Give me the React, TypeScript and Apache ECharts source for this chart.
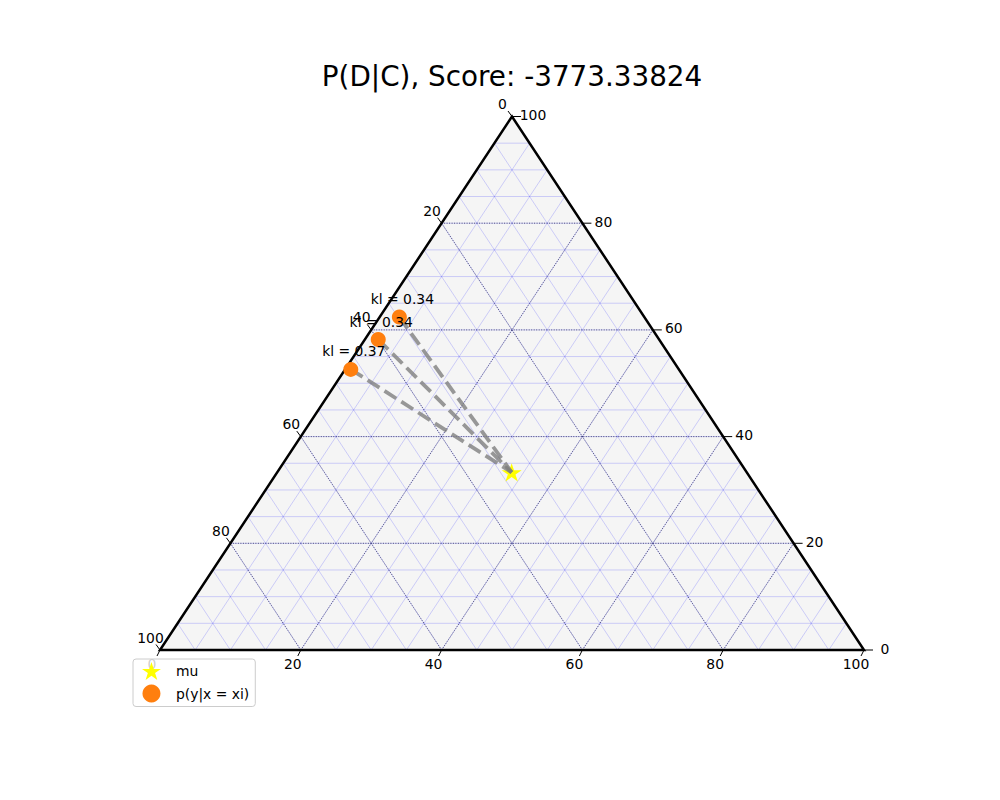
import React, { useEffect, useRef } from "react";
import * as echarts from "echarts";

// Ternary data: [bottom (a), right (b)] in percent; left c = 100 - a - b
const MU_A = [33.3];
const MU_B = [33.3];
const POINTS_A = [2.8, 1.9, 0.8];
const POINTS_B = [62.4, 58.2, 52.6];
const KL = [0.34, 0.34, 0.37];
const TICKS = [0, 20, 40, 60, 80, 100];
const MINOR = [5, 10, 15, 20, 25, 30, 35, 40, 45, 50, 55, 60, 65, 70, 75, 80, 85, 90, 95];
const MAJOR = [20, 40, 60, 80];
const TITLE = "P(D|C), Score: -3773.33824";
const FONT = "DejaVu Sans";

const project = (a: number, b: number) => [a + b / 2, b];

const STAR =
  "path://M0,-100 L22.45,-30.9 L95.1,-30.9 L36.3,11.8 L58.8,80.9 L0,38.2 L-58.8,80.9 L-36.3,11.8 L-95.1,-30.9 L-22.45,-30.9 Z";

function gridSegments(vals: number[]) {
  const segs: number[][] = [];
  vals.forEach((v) => {
    segs.push([...project(0, v), ...project(100 - v, v)]);
    segs.push([...project(v, 0), ...project(v, 100 - v)]);
    segs.push([...project(100 - v, 0), ...project(0, 100 - v)]);
  });
  return segs;
}

type TickItem = { pos: number[]; tick: number[]; lab: number[]; text: string };
const tickItems: TickItem[] = [];
TICKS.forEach((v) => {
  tickItems.push({ pos: project(v, 0), tick: [-3, 6], lab: [-8, 14], text: String(v) });
  tickItems.push({ pos: project(100 - v, v), tick: [9, 0], lab: [21, -1.5], text: String(v) });
  tickItems.push({ pos: project(0, 100 - v), tick: [-4, -5.5], lab: [-9.5, -12.5], text: String(v) });
});

const TRI = [project(0, 0), project(100, 0), project(0, 100)];

export default function App() {
  const ref = useRef<HTMLDivElement>(null);
  useEffect(() => {
    if (!ref.current) return;
    const chart = echarts.init(ref.current, null, { renderer: "svg" });

    const lineSeries = (segs: number[][], style: any) => ({
      type: "custom",
      silent: true,
      clip: false,
      data: segs,
      encode: { x: [0, 2], y: [1, 3] },
      renderItem: (params: any, api: any) => {
        const p1 = api.coord([api.value(0), api.value(1)]);
        const p2 = api.coord([api.value(2), api.value(3)]);
        return {
          type: "line",
          shape: { x1: p1[0], y1: p1[1], x2: p2[0], y2: p2[1] },
          style,
        };
      },
    });

    const triSeries = (style: any) => ({
      type: "custom",
      silent: true,
      clip: false,
      data: [[0, 0]],
      renderItem: (params: any, api: any) => ({
        type: "polygon",
        shape: { points: TRI.map((p) => api.coord(p)) },
        style,
      }),
    });

    const points = POINTS_A.map((a, i) => ({
      value: project(a, POINTS_B[i]),
      kl: KL[i],
    }));
    const mu = project(MU_A[0], MU_B[0]);

    chart.setOption({
      animation: false,
      grid: { left: 160, top: 116.5, width: 704, height: 533.5 },
      xAxis: { type: "value", min: 0, max: 100, show: false },
      yAxis: { type: "value", min: 0, max: 100, show: false },
      graphic: [
        {
          type: "text",
          x: 512,
          y: 76,
          style: {
            text: TITLE,
            fontSize: 27.8,
            fontFamily: FONT,
            fill: "#000",
            textAlign: "center",
            align: "center",
            textVerticalAlign: "middle",
            verticalAlign: "middle",
          },
        },
      ],
      legend: {
        left: 133,
        top: 659,
        orient: "vertical",
        padding: [3, 6, 4, 9],
        itemWidth: 39,
        itemHeight: 18,
        itemGap: 4.5,
        backgroundColor: "rgba(255,255,255,0.8)",
        borderColor: "#cccccc",
        borderWidth: 1,
        borderRadius: 3,
        textStyle: { fontSize: 13.9, fontFamily: FONT, color: "#000" },
        data: ["mu", "p(y|x = xi)"],
      },
      series: [
        triSeries({ fill: "#f5f5f5" }),
        lineSeries(gridSegments(MINOR), { stroke: "rgba(0,0,255,0.22)", lineWidth: 0.8 }),
        lineSeries(gridSegments(MAJOR), { stroke: "#101040", lineWidth: 0.7, lineDash: [1, 1.5] }),
        triSeries({ fill: "none", stroke: "#000", lineWidth: 2.5 }),
        {
          type: "custom",
          silent: true,
          clip: false,
          data: tickItems.map((t) => t.pos),
          renderItem: (params: any, api: any) => {
            const it = tickItems[params.dataIndex];
            const p = api.coord([api.value(0), api.value(1)]);
            return {
              type: "group",
              children: [
                {
                  type: "line",
                  shape: { x1: p[0], y1: p[1], x2: p[0] + it.tick[0], y2: p[1] + it.tick[1] },
                  style: { stroke: "#000", lineWidth: 1 },
                },
                {
                  type: "text",
                  x: p[0] + it.lab[0],
                  y: p[1] + it.lab[1],
                  style: {
                    text: it.text,
                    fontSize: 13.9,
                    fontFamily: FONT,
                    fill: "#000",
                    textAlign: "center",
                    align: "center",
                    textVerticalAlign: "middle",
                    verticalAlign: "middle",
                  },
                },
              ],
            };
          },
        },
        {
          name: "mu",
          type: "scatter",
          silent: true,
          symbol: STAR,
          symbolKeepAspect: true,
          symbolSize: [20, 19],
          itemStyle: { color: "#ffff00", opacity: 1 },
          data: [mu],
          z: 3,
        },
        {
          type: "lines",
          coordinateSystem: "cartesian2d",
          silent: true,
          lineStyle: { color: "#808080", width: 3.8, opacity: 0.8, type: [14, 6], curveness: 0 },
          data: points.map((p) => ({ coords: [p.value, mu] })),
          z: 4,
        },
        {
          name: "p(y|x = xi)",
          type: "scatter",
          silent: true,
          symbol: "circle",
          symbolSize: 15,
          itemStyle: { color: "#ff7f0e", opacity: 1 },
          data: points.map((p) => ({ value: p.value, kl: p.kl })),
          label: {
            show: true,
            position: "inside",
            offset: [3, -18],
            color: "#000",
            fontSize: 13.9,
            fontFamily: FONT,
            formatter: (p: any) => "kl = " + KL[p.dataIndex].toFixed(2),
          },
          z: 5,
        },
      ],
    });
    return () => chart.dispose();
  }, []);
  return (
    <div
      ref={ref}
      style={{ position: "fixed", left: 0, top: 0, width: 1000, height: 800, background: "#fff" }}
    />
  );
}
